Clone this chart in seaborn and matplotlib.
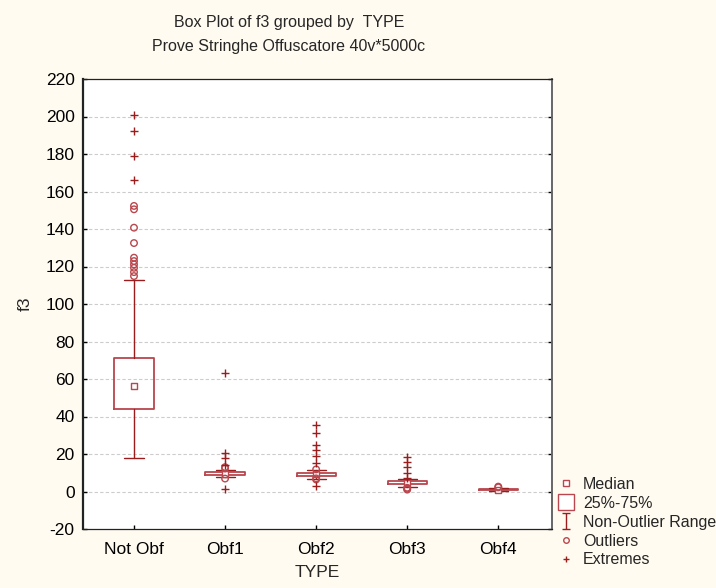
import numpy as np
import pandas as pd
import seaborn as sns
import matplotlib.pyplot as plt
from matplotlib.lines import Line2D
from matplotlib.path import Path

categories = ["Not Obf", "Obf1", "Obf2", "Obf3", "Obf4"]
medians = [56.3, 9.5, 9.2, 4.8, 1.0]
q1 = [44.1, 8.7, 8.5, 3.9, 0.7]
q3 = [71.4, 10.3, 10.1, 5.8, 1.4]
whisk_lo = [17.8, 7.8, 6.8, 2.6, 0.3]
whisk_hi = [112.7, 11.5, 11.5, 6.7, 1.9]

outliers = {
    "Not Obf": [152.3, 150.5, 140.7, 132.5, 124.7, 122.9, 121.1, 119.3, 117.0, 114.9],
    "Obf1": [13.0, 12.3, 6.9],
    "Obf2": [11.8, 7.0, 6.4],
    "Obf3": [2.0, 1.5, 1.0],
    "Obf4": [2.6, 2.2],
}
extremes = {
    "Not Obf": [200.7, 192.4, 179.2, 166.0],
    "Obf1": [63.3, 20.8, 17.8, 13.9, 1.6],
    "Obf2": [35.3, 31.0, 24.7, 21.9, 18.7, 15.1, 3.0],
    "Obf3": [18.3, 15.7, 12.9, 10.0, 7.1],
    "Obf4": [],
}

sns.set_style("white")
plt.rcParams["font.family"] = ["Liberation Sans", "DejaVu Sans"]
plt.rcParams["axes.unicode_minus"] = False

dark = "#9b1c1c"
boxc = "#b9474d"
bg = "#fffbf0"

fig = plt.figure(figsize=(7.16, 5.88), dpi=100, facecolor=bg)
ax = fig.add_axes([83 / 716, 1 - 529 / 588, (552 - 83) / 716, (529 - 79) / 588])
ax.set_facecolor("white")

pos = np.arange(len(categories))
stats = []
for i, c in enumerate(categories):
    stats.append(dict(med=medians[i], q1=q1[i], q3=q3[i],
                      whislo=whisk_lo[i], whishi=whisk_hi[i], fliers=[], label=c))
ax.bxp(stats, positions=pos, widths=0.43, showfliers=False,
       boxprops=dict(color=boxc, linewidth=1.3),
       whiskerprops=dict(color=dark, linewidth=1.0),
       capprops=dict(color=dark, linewidth=1.0),
       capwidths=0.21,
       medianprops=dict(linestyle="none"))

med_df = pd.DataFrame({"x": pos, "y": medians})
sns.scatterplot(data=med_df, x="x", y="y", marker="s", s=18, facecolor="white",
                edgecolor=boxc, linewidth=1.0, ax=ax, zorder=5)

out_rows = [(categories.index(c), v) for c in categories for v in outliers[c]]
out_df = pd.DataFrame(out_rows, columns=["x", "y"])
sns.scatterplot(data=out_df, x="x", y="y", marker="o", s=22, facecolor="none",
                edgecolor=boxc, linewidth=1.0, ax=ax, zorder=6)

ext_rows = [(categories.index(c), v) for c in categories for v in extremes[c]]
ext_df = pd.DataFrame(ext_rows, columns=["x", "y"])
sns.scatterplot(data=ext_df, x="x", y="y", marker="+", s=30, color=dark,
                linewidth=1.0, ax=ax, zorder=6)

ax.set_xlim(-0.56, 4.59)
ax.set_ylim(-20, 220)
ax.set_yticks(np.arange(-20, 221, 20))
ax.set_xticks(pos)
ax.set_xticklabels(categories)
for g in range(0, 201, 20):
    ax.axhline(g, color="#cccccc", linewidth=0.8, linestyle=(0, (3, 2)), zorder=0)

ax.tick_params(axis="both", direction="in", length=3, width=1, labelsize=12.5,
               colors="#000000", pad=6)
ax.tick_params(axis="x", pad=9)
ax.tick_params(axis="y", right=True, left=True)
ax.tick_params(axis="x", bottom=True)
for s in ax.spines.values():
    s.set_color("#222222")
    s.set_linewidth(0.9)
ax.spines["left"].set_linewidth(1.6)
ax.spines["right"].set_color("#666666")
ax.spines["right"].set_linewidth(1.4)

ax.set_xlabel("TYPE", fontsize=12.5, labelpad=6)
ax.set_ylabel("f3", fontsize=12.5, labelpad=9)

fig.text(289 / 716, 1 - 23 / 588, "Box Plot of f3 grouped by  TYPE",
         ha="center", va="center", fontsize=11.5)
fig.text(289 / 716, 1 - 47 / 588, "Prove Stringhe Offuscatore 40v*5000c",
         ha="center", va="center", fontsize=11.5)

ibeam = Path([(-0.5, 1), (0.5, 1), (0, 1), (0, -1), (-0.5, -1), (0.5, -1)],
             [Path.MOVETO, Path.LINETO, Path.MOVETO, Path.LINETO, Path.MOVETO, Path.LINETO])
handles = [
    Line2D([], [], linestyle="none", marker="s", markersize=4.5, markerfacecolor="white",
           markeredgecolor=boxc, markeredgewidth=1.0),
    Line2D([], [], linestyle="none", marker="s", markersize=12, markerfacecolor="white",
           markeredgecolor=boxc, markeredgewidth=1.0),
    Line2D([], [], linestyle="none", marker=ibeam, markersize=12, markerfacecolor="none",
           markeredgecolor=dark, markeredgewidth=1.0),
    Line2D([], [], linestyle="none", marker="o", markersize=4, markerfacecolor="none",
           markeredgecolor=boxc, markeredgewidth=1.0),
    Line2D([], [], linestyle="none", marker="+", markersize=5, markeredgecolor=dark,
           markeredgewidth=1.0),
]
labels = ["Median", "25%-75%", "Non-Outlier Range", "Outliers", "Extremes"]
fig.legend(handles, labels, loc="upper left", bbox_to_anchor=(559 / 716, 1 - 477 / 588),
           frameon=False, fontsize=11.5, handlelength=0.9, handletextpad=0.6,
           labelspacing=0.24, borderpad=0, borderaxespad=0)

fig.savefig("out.png", dpi=100, facecolor=bg)
